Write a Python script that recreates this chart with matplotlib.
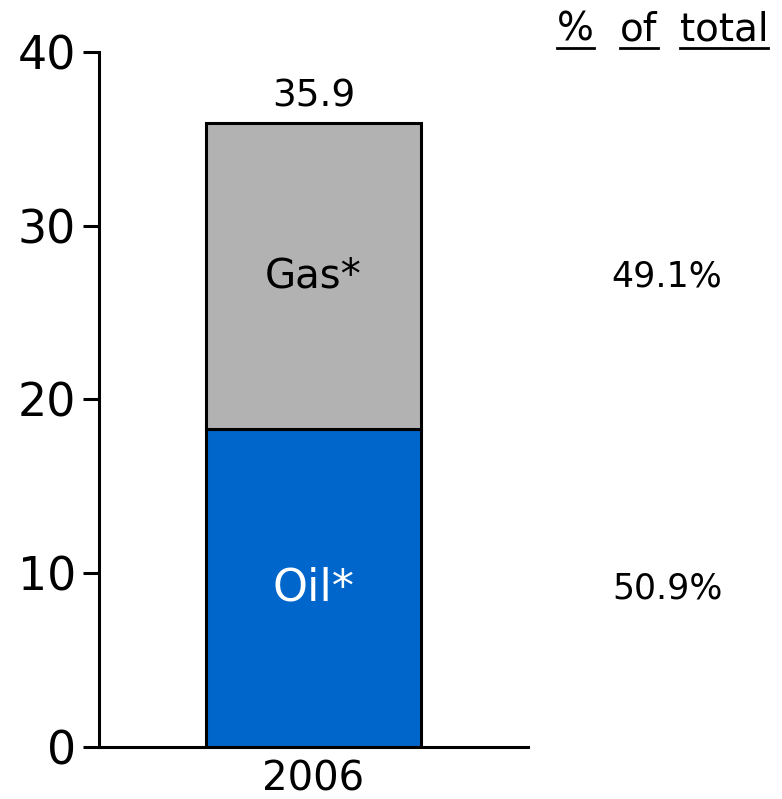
import matplotlib.pyplot as plt
from matplotlib.lines import Line2D
from matplotlib.transforms import blended_transform_factory

# values
years = ["2006"]
oil = [18.27]
gas = [17.63]
total_label = "35.9"
segment_names = ["Oil*", "Gas*"]
shares = ["50.9%", "49.1%"]
header_words = ["%", "of", "total"]

blue = "#0066CC"
grey = "#B2B2B2"

fig = plt.figure(figsize=(7.82, 7.99), dpi=100)
ax = fig.add_axes([0.1266, 0.0655, 0.5486, 0.8695])

x = [0]
ax.bar(x, oil, width=0.5, color=blue, edgecolor="black", linewidth=2.2, zorder=2)
ax.bar(x, gas, bottom=oil, width=0.5, color=grey, edgecolor="black", linewidth=2.2, zorder=2)

ax.set_xlim(-0.5, 0.5)
ax.set_ylim(0, 40)
ax.set_yticks([0, 10, 20, 30, 40])
ax.set_xticks(x)
ax.set_xticklabels(years)

for s in ["top", "right"]:
    ax.spines[s].set_visible(False)
for s in ["left", "bottom"]:
    ax.spines[s].set_linewidth(2.2)

ax.tick_params(axis="y", length=11.5, width=2.2, pad=5, labelsize=33)
ax.tick_params(axis="x", length=0, pad=9, labelsize=29)

# segment labels
ax.text(0, oil[0] / 2, segment_names[0], ha="center", va="center", fontsize=32, color="white")
ax.text(0, oil[0] + gas[0] / 2, segment_names[1], ha="center", va="center", fontsize=29, color="black")
ax.text(0, oil[0] + gas[0] + 0.5, total_label, ha="center", va="bottom", fontsize=27)

# share column on the right
bt = blended_transform_factory(fig.transFigure, ax.transData)
ax.text(0.853, oil[0] / 2, shares[0], transform=bt, ha="center", va="center", fontsize=25, clip_on=False)
ax.text(0.853, oil[0] + gas[0] / 2, shares[1], transform=bt, ha="center", va="center", fontsize=25, clip_on=False)

# underlined header
fig.canvas.draw()
renderer = fig.canvas.get_renderer()
header_x = [0.712, 0.793, 0.869]
for word, hx in zip(header_words, header_x):
    t = fig.text(hx, 0.949, word, ha="left", va="baseline", fontsize=28)
    bb = t.get_window_extent(renderer).transformed(fig.transFigure.inverted())
    fig.add_artist(Line2D([bb.x0, bb.x1], [0.940, 0.940], color="black", linewidth=2,
                          transform=fig.transFigure))

fig.savefig("out.png", dpi=100)
